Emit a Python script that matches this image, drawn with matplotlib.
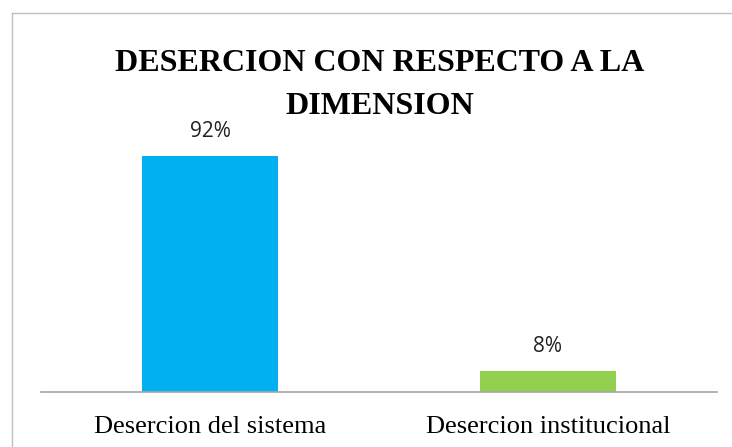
import matplotlib
matplotlib.use('Agg')
import matplotlib.pyplot as plt
from matplotlib.lines import Line2D

categorias = ["Desercion del sistema", "Desercion institucional"]
valores = [0.92, 0.08]
etiquetas = ["92%", "8%"]
colores = ["#00B0F0", "#92D050"]
titulo = "DESERCION CON RESPECTO A LA\nDIMENSION"

W, H = 732, 447
fig = plt.figure(figsize=(W / 100, H / 100), dpi=100)
ax = fig.add_axes([41 / W, 55 / H, 676 / W, 256.5 / H])

x = range(len(categorias))
ax.bar(x, valores, width=0.4, color=colores)
ax.set_xlim(-0.5, 1.5)
ax.set_ylim(0, 1.0)

for xi, v, t in zip(x, valores, etiquetas):
    ax.annotate(t, (xi, v), xytext=(0, 18), textcoords='offset points',
                ha='center', va='center', fontsize=15, family='Open Sans',
                color='#222222')

ax.set_xticks(list(x))
ax.set_xticklabels(categorias, family='Liberation Serif', fontsize=19)
ax.tick_params(axis='x', length=0, pad=17)
ax.set_yticks([])
for s in ['top', 'right', 'left']:
    ax.spines[s].set_visible(False)
ax.spines['bottom'].set_color('#A6A6A6')
ax.spines['bottom'].set_linewidth(1.2)

fig.text(380 / W, 1 - 85 / H, titulo, ha='center', va='center',
         family='Liberation Serif', fontweight='bold', fontsize=23,
         linespacing=1.65)

# borde del grafico
fig.add_artist(Line2D([12 / W, 12 / W], [0, 1 - 13 / H], transform=fig.transFigure,
                      color='#BFBFBF', lw=1))
fig.add_artist(Line2D([12 / W, 1], [1 - 13 / H, 1 - 13 / H], transform=fig.transFigure,
                      color='#BFBFBF', lw=1))

fig.savefig('out.png', dpi=100)
plt.close()
